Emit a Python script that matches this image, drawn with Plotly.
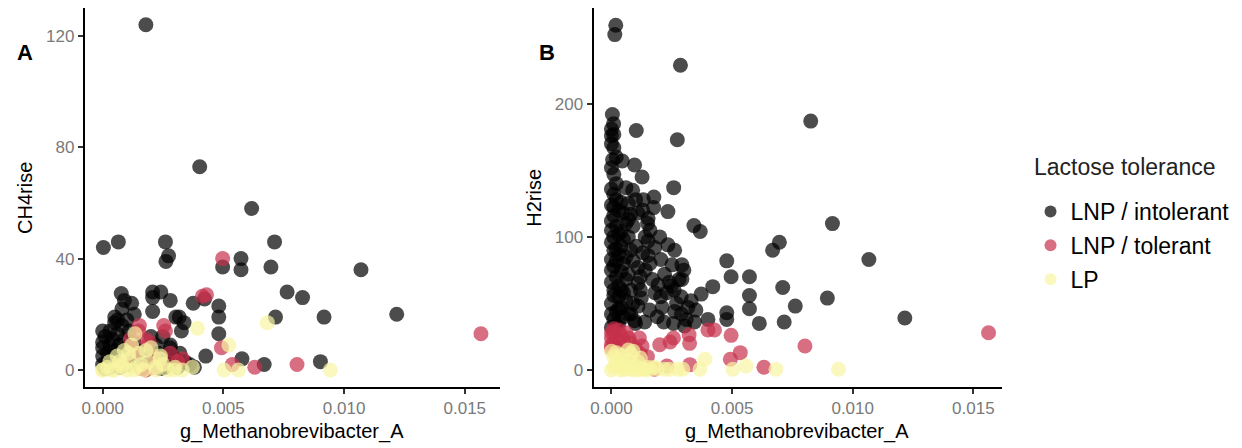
import plotly.graph_objects as go

# ---------------- data ----------------
groups = ["LNP / intolerant", "LNP / tolerant", "LP"]
legend_title = "Lactose tolerance"

# Panel A: CH4rise vs g_Methanobrevibacter_A
A_int_x = [0.00179, 0.00402, 0.00617, 0.00003, 0.00065, 0.0026, 0.00712, 0.00273, 0.00262, 0.00573,
           0.00573, 0.00497, 0.00697, 0.0107, 0.00764, 0.00828, 0.01218, 0.00917, 0.00716, 0.00902,
           0.00669, 0.00577, 0.00427, 0.00481, 0.00481, 0.00481, 0.00375, 0.0028, 0.00207, 0.00241,
           0.00207, 0.00207, 0.00077, 0.0009, 0.00131, 0.00303, 0.00317, 0.00337, 0.00326, 0.00249,
           0.0, 0.0005, 0.00062, 0.00422,
           0.0000, 0.0000, 0.0000, 0.0000, 0.0001, 0.0002, 0.0002, 0.0003, 0.0003, 0.0004,
           0.0004, 0.0005, 0.0005, 0.0006, 0.0006, 0.0007, 0.0007, 0.0008, 0.0008, 0.0009,
           0.0009, 0.0010, 0.0011, 0.0011, 0.0012, 0.0013, 0.0015, 0.0017, 0.0019, 0.0021,
           0.0023, 0.0025, 0.0026, 0.0027, 0.0028, 0.0029, 0.0030, 0.0031, 0.0032, 0.0034,
           0.0036, 0.0038, 0.0022, 0.0020, 0.0024, 0.0001, 0.0003, 0.0008, 0.0005, 0.0010,
           0.0012, 0.0028]
A_int_y = [124, 73, 58, 44, 46, 46, 46, 41, 39, 40,
           36, 37, 37, 36, 28, 26, 20, 19, 19, 3,
           2, 4, 5, 23, 19, 13, 24, 25, 28, 28,
           26, 21, 27.5, 25, 20, 19, 19, 17, 14, 12,
           14, 17, 18, 25.5,
           2, 5, 8, 10, 12, 3, 6, 9, 1, 4,
           11, 7, 2, 13, 5, 9, 1, 16, 3, 11,
           6, 8, 2, 14, 5, 10, 3, 7, 4, 2,
           6, 3, 1, 5, 8, 2, 4, 1, 6, 3,
           2, 1, 9, 12, 0.5, 0.5, 14, 22, 19, 18,
           24, 9]

A_tol_x = [0.01567, 0.00497, 0.00413, 0.0043, 0.00253, 0.0026, 0.00152, 0.00492, 0.00537, 0.0063,
           0.00805, 0.00193, 0.00115, 0.0033, 0.00179, 0.0014, 0.0021,
           0.0012, 0.0015, 0.0018, 0.0021, 0.0024, 0.0028, 0.0031, 0.0016, 0.0009]
A_tol_y = [13, 40, 26.5, 27, 16, 14, 16, 8, 2, 1,
           2, 10, 11, 4, 0, 6, 1,
           8, 14, 11, 5, 2, 6, 3, 0.5, 3]

A_lp_x = [0.00682, 0.00393, 0.00523, 0.00503, 0.00562, 0.00943, 0.00134, 0.00107, 0.00179, 0.00238,
          0.00372, 0.00296, 0.0, 0.00037, 0.00079, 0.00128, 0.0022, 0.0007, 0.0016,
          0.0000, 0.0002, 0.0003, 0.0005, 0.0006, 0.0008, 0.0009, 0.0010, 0.0011, 0.0012,
          0.0014, 0.0015, 0.0017, 0.0019, 0.0020, 0.0022, 0.0024, 0.0025, 0.0027, 0.0030, 0.0033]
A_lp_y = [17, 15, 9, 0, 0, 0, 13, 6, 7, 4,
          1, 0, 0, 0, 1, 0, 0, 3, 2,
          0, 1, 3, 0, 5, 2, 7, 0, 4, 9,
          1, 6, 0, 3, 8, 1, 5, 2, 0, 1, 0]

# Panel B: H2rise vs g_Methanobrevibacter_A
B_int_x = [0.00018, 0.00014, 0.00286, 0.00826, 0.00004, 0.00103, 0.00273, 0.00009, 0.0, 0.0001,
           0.00005, 0.00045, 0.00096, 0.00127, 0.00258, 0.0006, 0.00088, 0.00176, 0.00132, 0.00175,
           0.00234, 0.00342, 0.00368, 0.00916, 0.00696, 0.00668, 0.01067, 0.00478, 0.00496, 0.00572,
           0.0071, 0.0042, 0.00572, 0.00895, 0.00372, 0.00762, 0.00572, 0.00478, 0.00478, 0.00613,
           0.00716, 0.01216, 0.004, 0.00344, 0.00303, 0.00257, 0.00217, 0.00262, 0.00317, 0.00289,
           0.00204, 0.00193, 0.00248, 0.00292, 0.00251, 0.00292, 0.00205, 0.00262, 0.00234, 0.00152,
           0.00103, 0.00152, 0.0011, 0.00124, 0.00158, 0.00138, 0.00096, 0.0007, 0.0011, 0.0007,
           0.00152,
           0.0000, 0.0001, 0.0002, 0.0000, 0.0003, 0.0001, 0.0000, 0.0002, 0.0004, 0.0001,
           0.0000, 0.0003, 0.0002, 0.0000, 0.0001, 0.0004, 0.0002, 0.0000, 0.0001, 0.0003,
           0.0000, 0.0002, 0.0001, 0.0000, 0.0003, 0.0005, 0.0004, 0.0006, 0.0005, 0.0003,
           0.0006, 0.0005, 0.0006, 0.0004, 0.0005, 0.0003, 0.0006, 0.0005, 0.0004, 0.0002,
           0.0001, 0.0000, 0.0002, 0.0000, 0.0001, 0.0000, 0.0008, 0.0009, 0.0008, 0.0007,
           0.0009, 0.0008, 0.0007, 0.0009, 0.0008, 0.0007, 0.0010, 0.0011, 0.0012, 0.0013,
           0.0014, 0.0015, 0.0013, 0.0010, 0.0012, 0.0011, 0.0014, 0.0016, 0.0017, 0.0018,
           0.0019, 0.0021, 0.0022, 0.0024, 0.0026, 0.0027, 0.0029, 0.0031, 0.0033, 0.0035,
           0.0023, 0.0028, 0.0030, 0.0018, 0.0020, 0.0016, 0.0000, 0.0001, 0.0000, 0.0001,
           0.0000, 0.0001, 0.0002, 0.0003, 0.0002, 0.0004]
B_int_y = [259, 252, 229, 187, 192, 180, 173, 185, 176, 167,
           158, 157, 154, 145, 137, 137, 135, 130, 128, 122,
           119, 108.5, 104, 110, 96, 90, 83, 82, 70, 70,
           62, 62.6, 56, 54, 57, 48, 46, 43, 38, 35,
           36, 39, 38, 36, 33, 35, 36, 44, 47, 55,
           55, 64, 63, 68, 79, 79, 83, 90, 94, 97,
           93, 86, 77, 54, 45, 36, 37, 42, 118, 113,
           114,
           32, 38, 44, 50, 55, 60, 66, 70, 74, 78,
           83, 87, 91, 96, 100, 104, 108, 112, 116, 120,
           124, 128, 132, 136, 35, 40, 47, 52, 58, 63,
           68, 80, 85, 93, 98, 102, 110, 118, 126, 140,
           147, 152, 160, 170, 177, 181, 42, 50, 60, 72,
           82, 90, 100, 108, 117, 125, 35, 65, 70, 88,
           100, 110, 120, 128, 60, 48, 75, 80, 68, 58,
           40, 47, 72, 66, 60, 50, 42, 38, 52, 45,
           58, 68, 75, 92, 100, 105, 42, 56, 75, 90,
           105, 122, 82, 46, 34, 60]

B_tol_x = [0.01563, 0.00802, 0.00496, 0.00427, 0.004, 0.00322, 0.00324, 0.00257, 0.00243, 0.002,
           0.00116, 0.00072, 0.00127, 0.00149, 0.00534, 0.00493, 0.00632, 0.00325, 0.0023, 0.00178,
           0.00009, 0.0, 0.0,
           0.0000, 0.0001, 0.0002, 0.0000, 0.0003, 0.0001, 0.0004, 0.0002, 0.0005, 0.0003,
           0.0006, 0.0008, 0.0010, 0.0012, 0.0007, 0.0009]
B_tol_y = [28, 18, 26, 30, 30, 26.5, 20, 24, 21, 19,
           24, 24, 18, 10, 13, 8, 2, 4, 3, 0.5,
           29, 24, 19,
           16, 20, 24, 28, 30, 31, 26, 18, 22, 15,
           28, 20, 16, 12, 10, 8]

B_lp_x = [0.00941, 0.00682, 0.00558, 0.00503, 0.00388, 0.00367, 0.00296, 0.00275, 0.0022, 0.00179,
          0.0000, 0.0001, 0.0002, 0.0003, 0.0004, 0.0000, 0.0005, 0.0006, 0.0007, 0.0008,
          0.0009, 0.0010, 0.0011, 0.0012, 0.0013, 0.0014, 0.0015, 0.0001, 0.0002, 0.0004,
          0.0006, 0.0008, 0.0003, 0.0011, 0.0016, 0.0019, 0.0024, 0.0005, 0.0009, 0.0007]
B_lp_y = [0.5, 0.5, 3, 0.5, 8, 0.5, 0.5, 0.5, 0.5, 2,
          0, 2, 5, 8, 11, 14, 1, 4, 7, 12,
          0, 3, 6, 9, 1, 0, 2, 10, 13, 0,
          0.5, 2, 4, 0, 0.5, 1, 0.5, 6, 14, 15]

colors = ["rgb(0,0,0)", "rgb(198,48,76)", "rgb(248,245,162)"]
opac = 0.7

FONT = "Liberation Sans, Arial, sans-serif"

fig = go.Figure()

panels = [
    ("x", "y", [(A_int_x, A_int_y), (A_tol_x, A_tol_y), (A_lp_x, A_lp_y)], True),
    ("x2", "y2", [(B_int_x, B_int_y), (B_tol_x, B_tol_y), (B_lp_x, B_lp_y)], False),
]
for xa, ya, data, show in panels:
    for g, (xs, ys), c in zip(groups, data, colors):
        fig.add_trace(go.Scatter(
            x=xs, y=ys, mode="markers", name=g, legendgroup=g, showlegend=show,
            xaxis=xa, yaxis=ya,
            marker=dict(size=15, color=c, opacity=opac, line=dict(width=0)),
        ))

W, H = 1242, 448
def px(v):
    return v / W
def py(v):
    return 1 - v / H

axis_common = dict(
    showline=True, linecolor="black", linewidth=2, mirror=False,
    ticks="outside", ticklen=5, tickwidth=1.5, tickcolor="#333333",
    showgrid=False, zeroline=False,
    tickfont=dict(family=FONT, size=17, color="#7a7a7a"),
)

def ann(text, x, y, size, angle=0, color="black", xanchor="center"):
    return dict(text=text, x=px(x), y=py(y), xref="paper", yref="paper",
                xanchor=xanchor, yanchor="middle", textangle=angle,
                showarrow=False, font=dict(family=FONT, size=size, color=color))

xticks = [0.0, 0.005, 0.010, 0.015]
fig.update_layout(
    width=W, height=H,
    margin=dict(l=0, r=0, t=0, b=0),
    paper_bgcolor="white", plot_bgcolor="white",
    font=dict(family=FONT),
    xaxis=dict(domain=[px(82), px(498)], range=[-0.00074, 0.01645], tickvals=xticks,
               tickformat=".3f", anchor="y", **axis_common),
    yaxis=dict(domain=[py(387), py(8)], range=[-6.1, 130], tickvals=[0, 40, 80, 120],
               anchor="x", **axis_common),
    xaxis2=dict(domain=[px(592), px(1001)], range=[-0.00074, 0.01617], tickvals=xticks,
                tickformat=".3f", anchor="y2", **axis_common),
    yaxis2=dict(domain=[py(387), py(8)], range=[-12.8, 272], tickvals=[0, 100, 200],
                anchor="x2", **axis_common),
    legend=dict(
        x=px(1030), y=py(190), xanchor="left", yanchor="top",
        font=dict(family=FONT, size=23, color="black"),
        itemsizing="constant", bgcolor="rgba(0,0,0,0)", tracegroupgap=1,
    ),
    annotations=[
        ann("<b>A</b>", 22, 52, 22),
        ann("<b>B</b>", 545, 52, 22),
        ann("CH4rise", 22, 198, 20, -90),
        ann("H2rise", 532, 198, 20, -90),
        ann("g_Methanobrevibacter_A", 290, 431, 20),
        ann("g_Methanobrevibacter_A", 796, 431, 20),
        ann(legend_title, 1031, 167, 23, color="#222222", xanchor="left"),
    ],
)

fig.write_html("out.html")
